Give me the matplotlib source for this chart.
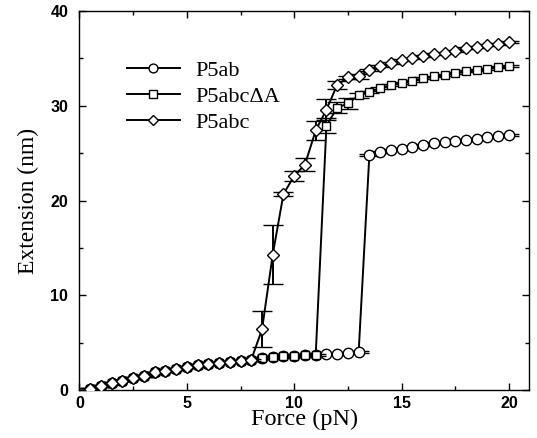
import matplotlib.pyplot as plt
from matplotlib.lines import Line2D
from matplotlib.ticker import MultipleLocator

# force steps (pN)
force = [0.5, 1.0, 1.5, 2.0, 2.5, 3.0, 3.5, 4.0, 4.5, 5.0,
         5.5, 6.0, 6.5, 7.0, 7.5, 8.0, 8.5, 9.0, 9.5, 10.0,
         10.5, 11.0, 11.5, 12.0, 12.5, 13.0, 13.5, 14.0, 14.5, 15.0,
         15.5, 16.0, 16.5, 17.0, 17.5, 18.0, 18.5, 19.0, 19.5, 20.0]

# extension (nm)
p5ab = [0.1, 0.4, 0.75, 1.0, 1.25, 1.5, 1.85, 2.05, 2.25, 2.4,
        2.6, 2.75, 2.9, 3.0, 3.1, 3.2, 3.35, 3.45, 3.55, 3.6,
        3.65, 3.7, 3.75, 3.8, 3.9, 4.0, 24.85, 25.1, 25.3, 25.45,
        25.65, 25.9, 26.05, 26.2, 26.3, 26.4, 26.55, 26.7, 26.8, 26.95]
p5ab_err = [0.1] * 40

p5abc_dA = [0.1, 0.4, 0.75, 1.0, 1.25, 1.5, 1.85, 2.05, 2.25, 2.4,
            2.6, 2.75, 2.9, 3.0, 3.1, 3.2, 3.35, 3.45, 3.55, 3.6,
            3.65, 3.7, 27.9, 29.8, 30.25, 31.1, 31.5, 31.85, 32.2, 32.45,
            32.65, 32.9, 33.1, 33.25, 33.45, 33.65, 33.75, 33.9, 34.1, 34.25]
p5abc_dA_err = [0.1, 0.1, 0.1, 0.1, 0.1, 0.1, 0.1, 0.1, 0.1, 0.1,
                0.1, 0.1, 0.1, 0.1, 0.1, 0.1, 0.1, 0.1, 0.1, 0.1,
                0.1, 0.1, 0.8, 0.6, 0.6, 0.3, 0.1, 0.1, 0.1, 0.1,
                0.1, 0.1, 0.1, 0.1, 0.1, 0.1, 0.1, 0.1, 0.1, 0.1]

p5abc = [0.1, 0.4, 0.75, 1.0, 1.25, 1.5, 1.85, 2.05, 2.25, 2.4,
         2.6, 2.75, 2.9, 3.0, 3.1, 3.2, 6.4, 14.3, 20.7, 22.6,
         23.8, 27.4, 29.6, 32.2, 33.0, 33.1, 33.8, 34.2, 34.5, 34.8,
         35.0, 35.3, 35.45, 35.6, 35.8, 36.1, 36.2, 36.4, 36.5, 36.7]
p5abc_err = [0.1, 0.1, 0.1, 0.1, 0.1, 0.1, 0.1, 0.1, 0.1, 0.1,
             0.1, 0.1, 0.1, 0.1, 0.1, 0.1, 1.9, 3.1, 0.2, 0.5,
             0.7, 1.0, 1.1, 0.4, 0.2, 0.3, 0.1, 0.1, 0.1, 0.1,
             0.1, 0.1, 0.1, 0.1, 0.1, 0.1, 0.1, 0.1, 0.1, 0.1]

series = [
    ('P5ab', p5ab, p5ab_err, 'o', 7.5),
    ('P5abc\u0394A', p5abc_dA, p5abc_dA_err, 's', 6.0),
    ('P5abc', p5abc, p5abc_err, 'D', 6.0),
]

serif = ['Liberation Serif', 'DejaVu Serif']

fig = plt.figure(figsize=(5.37, 4.38), dpi=100)
ax = fig.add_axes([0.148, 0.1096, 0.837, 0.865])

handles = []
for i, (name, ext, err, mk, size) in enumerate(series):
    ax.errorbar(force, ext, yerr=err, marker=mk, ms=size, color='black',
                lw=1.4, mfc='white', mec='black', mew=1.0, ecolor='black',
                elinewidth=1.4, capsize=7, capthick=1.3, zorder=2 + i)
    handles.append(Line2D([], [], color='black', lw=1.4, marker=mk,
                          ms=size * 0.85, mfc='white', mec='black', mew=1.0,
                          label=name))

ax.set_xlim(0, 20.93)
ax.set_ylim(0, 40)
ax.xaxis.set_major_locator(MultipleLocator(5))
ax.xaxis.set_minor_locator(MultipleLocator(2.5))
ax.yaxis.set_major_locator(MultipleLocator(10))
ax.yaxis.set_minor_locator(MultipleLocator(5))
ax.tick_params(which='both', direction='in', top=True, right=True, width=1)
ax.tick_params(which='major', length=5)
ax.tick_params(which='minor', length=3)
ax.tick_params(axis='x', pad=4)
ax.tick_params(axis='y', pad=8)
for lab in ax.get_xticklabels() + ax.get_yticklabels():
    lab.set_family('Liberation Sans')
    lab.set_fontweight('bold')
    lab.set_fontsize(11.5)
for s in ax.spines.values():
    s.set_linewidth(1.0)

ax.set_xlabel('Force (pN)', family=serif, fontsize=17.5, labelpad=-1)
ax.set_ylabel('Extension (nm)', family=serif, fontsize=17, labelpad=8)

ax.legend(handles=handles, loc='upper left', bbox_to_anchor=(0.105, 0.871),
          frameon=False, prop={'family': serif, 'size': 16},
          borderpad=0, borderaxespad=0, handlelength=2.4,
          handletextpad=0.7, labelspacing=0.25)

fig.savefig('out.png', dpi=100)
